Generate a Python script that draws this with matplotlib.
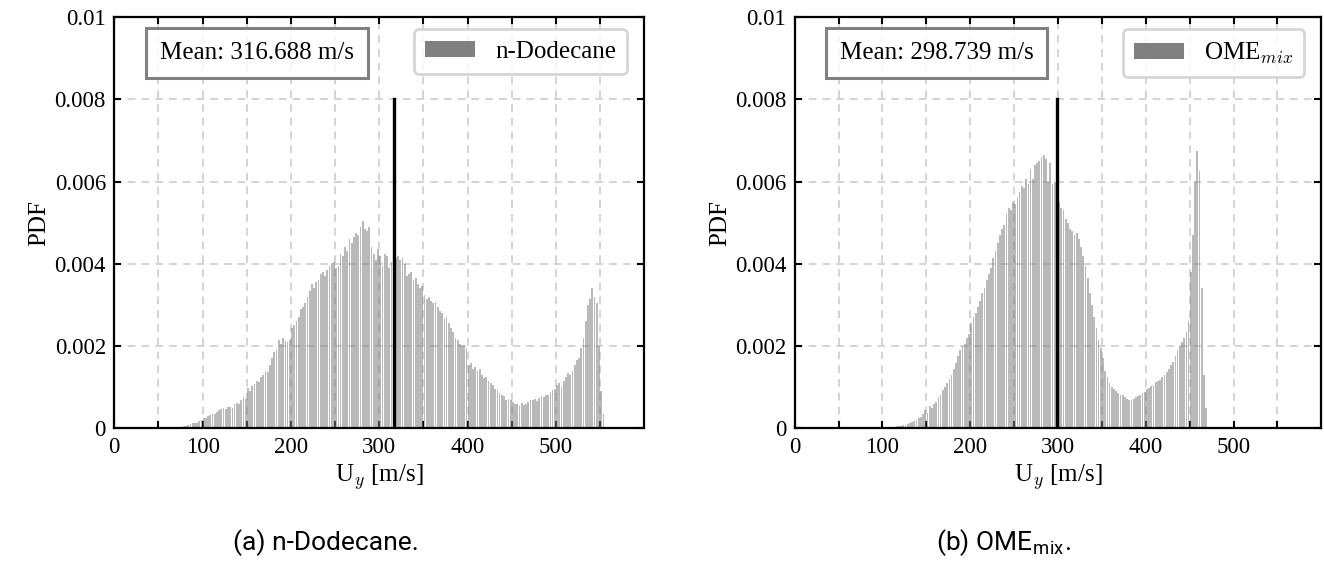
import numpy as np
import matplotlib
matplotlib.use("Agg")
import matplotlib.pyplot as plt

plt.rcParams["font.family"] = ["Liberation Serif", "DejaVu Serif"]
plt.rcParams["mathtext.fontset"] = "cm"

# Histogram bins (m/s)
bin_width = 2.5
dodecane_start = 70.0
ome_start = 110.0

# n-Dodecane PDF per bin (x1e-3)
pdf_dodecane = [
    0.02, 0.03, 0.04, 0.05, 0.06, 0.08, 0.10, 0.12, 0.14, 0.13,
    0.17, 0.20, 0.26, 0.24, 0.30, 0.32, 0.36, 0.34, 0.40, 0.45,
    0.47, 0.50, 0.48, 0.52, 0.53, 0.50, 0.58, 0.62, 0.60, 0.70,
    0.77, 0.72, 0.97, 0.90, 1.02, 1.08, 1.15, 1.12, 1.25, 1.30,
    1.40, 1.38, 1.55, 1.70, 1.85, 1.90, 2.15, 2.05, 2.20, 2.12,
    2.10, 2.15, 2.45, 2.50, 2.60, 2.70, 2.90, 2.95, 3.05, 3.20,
    3.35, 3.50, 3.40, 3.55, 3.60, 3.75, 3.80, 3.70, 3.85, 3.95,
    4.02, 4.05, 3.90, 3.95, 4.25, 4.20, 4.40, 4.30, 4.60, 4.50,
    4.65, 4.75, 4.70, 4.90, 5.05, 4.85, 4.80, 4.90, 4.40, 4.25,
    4.10, 4.35, 4.20, 3.95, 4.25, 4.20, 3.90, 4.05, 3.95, 4.15,
    4.20, 4.10, 4.15, 4.00, 3.70, 3.75, 3.80, 3.60, 3.65, 3.50,
    3.40, 3.45, 3.25, 3.15, 3.20, 3.10, 3.05, 3.08, 2.95, 2.85,
    2.80, 2.65, 2.70, 2.55, 2.45, 2.35, 2.20, 2.15, 2.05, 2.00,
    2.02, 1.95, 1.55, 1.60, 1.45, 1.50, 1.40, 1.45, 1.30, 1.22,
    1.25, 1.15, 1.10, 1.05, 0.95, 0.92, 0.85, 0.82, 0.78, 0.70,
    0.72, 0.68, 0.65, 0.60, 0.58, 0.55, 0.62, 0.57, 0.60, 0.65,
    0.70, 0.68, 0.72, 0.66, 0.74, 0.78, 0.75, 0.80, 0.82, 0.88,
    0.92, 0.95, 1.05, 1.10, 1.00, 1.15, 1.25, 1.35, 1.30, 1.40,
    1.55, 1.65, 1.70, 1.95, 2.20, 2.60, 3.00, 3.15, 3.40, 3.20,
    3.05, 2.00, 0.90, 0.35,
]

# OME_mix PDF per bin (x1e-3)
pdf_ome = [
    0.03, 0.04, 0.05, 0.06, 0.05, 0.07, 0.08, 0.10, 0.12, 0.15,
    0.18, 0.20, 0.24, 0.28, 0.34, 0.45, 0.38, 0.55, 0.50, 0.60,
    0.65, 0.75, 0.80, 0.92, 1.00, 1.10, 1.20, 1.30, 1.45, 1.60,
    1.75, 1.90, 2.00, 2.05, 2.20, 2.30, 2.55, 2.70, 2.80, 2.95,
    3.10, 3.30, 3.40, 3.60, 3.75, 3.90, 4.15, 4.30, 4.50, 4.70,
    4.85, 4.95, 5.20, 5.35, 5.30, 5.50, 5.45, 5.60, 5.75, 5.90,
    5.85, 6.05, 5.95, 6.30, 6.05, 6.40, 6.45, 6.50, 6.60, 6.65,
    6.55, 6.00, 6.45, 5.95, 6.00, 5.80, 5.50, 5.35, 5.30, 5.10,
    5.00, 4.85, 4.80, 4.70, 4.75, 4.60, 4.40, 4.20, 3.95, 3.65,
    3.30, 3.00, 2.70, 2.45, 2.15, 1.95, 1.70, 1.40, 1.25, 1.10,
    1.00, 0.95, 0.90, 0.85, 0.82, 0.80, 0.75, 0.72, 0.70, 0.68,
    0.72, 0.75, 0.78, 0.80, 0.85, 0.88, 0.95, 0.98, 1.02, 1.05,
    1.12, 1.15, 1.18, 1.25, 1.30, 1.38, 1.45, 1.55, 1.62, 1.75,
    1.90, 2.00, 2.10, 2.20, 2.35, 2.60, 3.80, 4.70, 6.00, 6.75,
    6.25, 3.40, 1.30, 0.50,
]

mean_dodecane = 316.688
mean_ome = 298.739
mean_line_top = 0.008

labels = ["n-Dodecane", r"OME$_{mix}$"]
captions = ["(a) n-Dodecane.", "(b) OME$_{\\mathregular{mix}}$."]
x_ticks = [0, 50, 100, 150, 200, 250, 300, 350, 400, 450, 500, 550]
x_ticklabels = ["0", "", "100", "", "200", "", "300", "", "400", "", "500", ""]
y_ticks = [0, 0.002, 0.004, 0.006, 0.008, 0.01]
y_ticklabels = ["0", "0.002", "0.004", "0.006", "0.008", "0.01"]

FS_TICK = 16.5
FS_LABEL = 18
FS_BOX = 18

fig = plt.figure(figsize=(13.24, 5.73), dpi=100)
ax_l = fig.add_axes([0.0863, 0.2525, 0.4003, 0.7178])
ax_r = fig.add_axes([0.6002, 0.2525, 0.3978, 0.7178])

panels = [
    (ax_l, dodecane_start, pdf_dodecane, mean_dodecane, labels[0]),
    (ax_r, ome_start, pdf_ome, mean_ome, labels[1]),
]

for ax, start, pdf, mean, lab in panels:
    pdf = np.asarray(pdf) * 1e-3
    centers = start + bin_width * (np.arange(len(pdf)) + 0.5)
    ax.bar(centers, pdf, width=bin_width * 0.8, color="gray", alpha=0.55,
           linewidth=0, label=lab, zorder=2)
    ax.plot([mean, mean], [0, mean_line_top], color="black", lw=2.4, zorder=3)

    ax.set_xlim(0, 600)
    ax.set_ylim(0, 0.01)
    ax.set_xticks(x_ticks)
    ax.set_xticklabels(x_ticklabels, fontsize=FS_TICK)
    ax.set_yticks(y_ticks)
    ax.set_yticklabels(y_ticklabels, fontsize=FS_TICK)
    ax.tick_params(direction="in", top=True, right=True, length=5, width=1.5,
                   pad=6)
    ax.grid(True, ls=(0, (5, 4)), color="#c8c8c8", lw=1.1, zorder=0)
    ax.set_axisbelow(True)
    for sp in ax.spines.values():
        sp.set_linewidth(1.6)
    ax.set_xlabel(r"U$_y$ [m/s]", fontsize=FS_LABEL, labelpad=3)
    ax.set_ylabel("PDF", fontsize=FS_LABEL, labelpad=3)

    ax.text(0.086, 0.913, f"Mean: {mean:.3f} m/s", transform=ax.transAxes,
            ha="left", va="center", fontsize=FS_BOX, zorder=5,
            bbox=dict(boxstyle="square,pad=0.55", fc=(1, 1, 1, 0.8),
                      ec="gray", lw=2.2))
    leg = ax.legend(loc="upper right", bbox_to_anchor=(0.968, 0.97),
                    fontsize=FS_BOX, handlelength=2.0, handleheight=0.6,
                    handletextpad=0.8, borderpad=0.45, framealpha=0.8,
                    fancybox=True, borderaxespad=0.0)
    leg.get_frame().set_edgecolor("#cccccc")
    leg.get_frame().set_linewidth(2.0)
    for h in leg.legend_handles:
        h.set_alpha(1.0)

cap_font = ["Roboto", "DejaVu Sans"]
fig.text(326 / 1324, 1 - 543 / 573, captions[0], ha="center", va="center",
         fontsize=19, family=cap_font)
fig.text(1004 / 1324, 1 - 543 / 573, captions[1], ha="center", va="center",
         fontsize=19, family=cap_font)

fig.savefig("out.png", dpi=100)
